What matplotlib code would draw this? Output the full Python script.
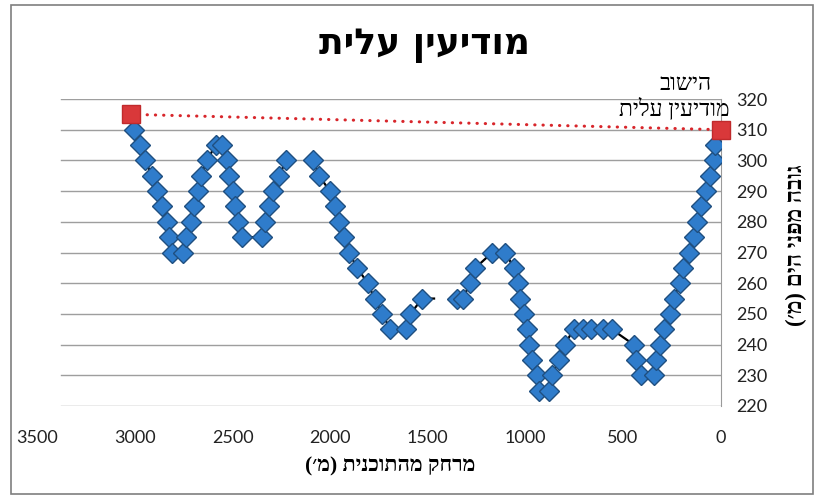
import numpy as np
import matplotlib
matplotlib.use("Agg")
import matplotlib.pyplot as plt
from matplotlib.patches import Rectangle

nan = np.nan

# distance from the plan (m) and elevation (m), gaps are NaN
dist = [3004, 2975, 2948, 2914, 2887, 2863, 2839, 2824, 2810, 2752,
        2737, 2716, 2699, 2679, 2664, 2631, 2588, 2556, 2529, 2521,
        2500, 2490, 2474, 2451, 2349, 2332, 2312, 2292, 2263, 2225,
        nan,
        2088, 2056, 2003, 1974, 1956, 1931, 1905, 1862, 1808, 1773,
        1734, 1692, 1614, 1589, 1529, 1468,
        nan,
        1353, 1322, 1282, 1256, 1170, 1102, 1060, 1039, 1029, 1007,
        994, 982, 965, 943, 931, 880, 863, 829, 799, 752,
        707, 663, 604, 558, 445, 431, 407, 342, 331, 311,
        288, 261, 240, 209, 193, 161, 138, 120, 102, 72,
        55, 33, 30]
elev = [310, 305, 300, 295, 290, 285, 280, 275, 270, 270,
        275, 280, 285, 290, 295, 300, 305, 305, 300, 295,
        290, 285, 280, 275, 275, 280, 285, 290, 295, 300,
        nan,
        300, 295, 290, 285, 280, 275, 270, 265, 260, 255,
        250, 245, 245, 250, 255, 255,
        nan,
        255, 255, 260, 265, 270, 270, 265, 260, 255, 250,
        245, 240, 235, 230, 225, 225, 230, 235, 240, 245,
        245, 245, 245, 245, 240, 235, 230, 230, 235, 240,
        245, 250, 255, 260, 265, 270, 275, 280, 285, 290,
        295, 300, 305]
# the point at 1468 m carries no marker
no_marker = [46]

# the town and the far end of the section
town_dist = [3023, 0]
town_elev = [315, 310]

xticks = [0, 500, 1000, 1500, 2000, 2500, 3000, 3500]
yticks = [220, 230, 240, 250, 260, 270, 280, 290, 300, 310, 320]


def heb(s):
    # matplotlib lays text out left to right, so flip Hebrew by hand
    swap = {"(": ")", ")": "("}
    return "".join(swap.get(c, c) for c in reversed(s))


HEB = ["Liberation Serif", "DejaVu Sans"]
HEB_BOLD = ["DejaVu Sans"]

fig = plt.figure(figsize=(8.23, 5), dpi=100)
ax = fig.add_axes([0.0456, 0.188, 0.8299, 0.614])

x = np.array(dist, dtype=float)
y = np.array(elev, dtype=float)
marks = [i for i in range(len(x)) if i not in no_marker and not np.isnan(x[i])]

ax.plot(x, y, color="black", lw=1.6, zorder=2)
ax.plot(x[marks], y[marks], linestyle="none", marker="D", ms=10,
        mfc="#2F7CCB", mec="#1F4F80", mew=1.0, zorder=3)

ax.plot(town_dist, town_elev, color="#D8262B", lw=2.2,
        linestyle=(0, (0.1, 2.6)), dash_capstyle="round", zorder=2)
ax.plot(town_dist, town_elev, linestyle="none", marker="s", ms=12.5,
        mfc="#D9383A", mec="#C02A2C", zorder=4, clip_on=False)

ax.set_xlim(3500, 0)
ax.set_ylim(220, 320)
ax.set_xticks(xticks)
ax.set_yticks(yticks)
ax.yaxis.tick_right()
# horizontal gridlines start a little inside the left edge
for yv in yticks:
    ax.axhline(yv, xmin=0.034, xmax=1, color="#9E9E9E", lw=1.0, zorder=0)
for side in ["top", "left", "bottom"]:
    ax.spines[side].set_visible(False)
ax.spines["right"].set_color("#9A9A9A")
ax.tick_params(length=0, labelsize=13, colors="#222222")
ax.tick_params(axis="y", pad=11)
ax.tick_params(axis="x", pad=17)
for lab in ax.get_xticklabels() + ax.get_yticklabels():
    lab.set_family("Lato")

fig.text(0.516, 0.908, heb("מודיעין עלית"), ha="center", va="center",
         fontsize=26, fontweight="bold", family=HEB_BOLD)
fig.text(0.474, 0.068, heb("מרחק מהתוכנית (מ׳)"), ha="center", va="center",
         fontsize=15.5, fontweight="bold", family=HEB)
fig.text(0.968, 0.51, heb("גובה מפני הים (מ׳)"), ha="center", va="center",
         rotation=90, fontsize=16.5, fontweight="bold", family=HEB)

fig.text(0.833, 0.832, heb("הישוב"), ha="center", va="center",
         fontsize=16.5, family=HEB)
fig.text(0.819, 0.782, heb("מודיעין עלית"), ha="center", va="center",
         fontsize=16.5, family=HEB)

# chart area frame
fig.patches.append(Rectangle((0.013, 0.012), 0.975, 0.978, transform=fig.transFigure,
                             fill=False, edgecolor="#7F7F7F", lw=1.2))

fig.savefig("out.png", dpi=100)
